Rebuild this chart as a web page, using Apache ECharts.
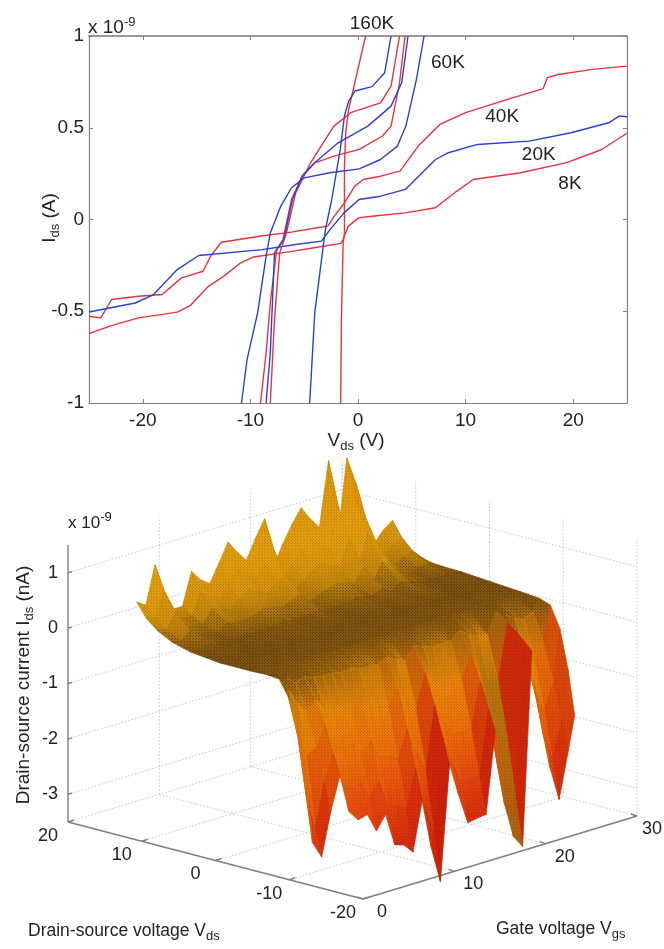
<!DOCTYPE html>
<html><head><meta charset="utf-8">
<style>html,body{margin:0;padding:0;background:#fff}#c{width:664px;height:949px}#c canvas{filter:blur(.45px)}</style>
<script src="https://cdn.jsdelivr.net/npm/echarts@6/dist/echarts.min.js"></script>
</head><body><div id="c"></div>
<script>
// ---------- top panel data: [Vds, Ids (nA)] ----------
const curve8K=[[-25,-.622],[-23,-.58],[-20.4,-.536],[-18.5,-.52],[-16.8,-.505],[-15.6,-.47],[-13.9,-.364],[-12.5,-.31],[-10.9,-.236],[-9.7,-.204],[-6.6,-.178],[-4.2,-.155],[-1.6,-.13],[-1.4,-.113],[-1.26,-.09],[-.9,-.036],[.1,.01],[1.3,.018],[4.4,.036],[7.2,.064],[9.2,.155],[10.7,.218],[15.1,.255],[19.4,.31],[22.6,.38],[25,.47]];
const curve20K=[[-25,-.504],[-20.7,-.455],[-19,-.409],[-16.8,-.273],[-14.8,-.196],[-8.9,-.164],[-5.8,-.136],[-3.4,-.118],[-2.6,-.055],[-1.3,.036],[.1,.109],[2.1,.127],[4.4,.164],[7.2,.327],[8.4,.364],[11.1,.409],[15.9,.427],[19.8,.473],[23.3,.527],[24.3,.565],[25,.56]];
const curve40K=[[-25,-.527],[-23.9,-.536],[-22.9,-.436],[-20.4,-.418],[-18.2,-.409],[-16.4,-.318],[-14.4,-.282],[-13.7,-.2],[-12.7,-.124],[-9,-.09],[-6.2,-.069],[-3.8,-.045],[-2.8,-.036],[-2.2,.018],[-1.26,.09],[-.3,.182],[.5,.218],[2.1,.236],[3.9,.264],[5.6,.4],[7.6,.518],[10,.582],[13.9,.655],[17.2,.713],[17.6,.773],[18.6,.79],[21.8,.818],[25,.836]];
const curve60K=[[-10.83,-1],[-10.31,-.764],[-9.33,-.509],[-8.54,-.2],[-8.15,-.073],[-7.17,.073],[-6.18,.173],[-5,.227],[-2.64,.255],[.12,.276],[2.09,.327],[3.66,.4],[4.45,.509],[5.43,.764],[6.14,1]];
const curve80K=[[-9.06,-1],[-8.54,-.727],[-8.15,-.455],[-7.56,-.164],[-6.97,-.109],[-6.18,.109],[-5.2,.236],[-4.02,.309],[-2.24,.345],[.12,.382],[2.28,.455],[3.07,.509],[3.86,.745],[4.37,1]];
const curve100K=[[-8.54,-1],[-8.15,-.727],[-7.76,-.182],[-6.89,-.109],[-6.1,.109],[-5.2,.236],[-4.02,.309],[-1.85,.418],[.91,.509],[3.07,.618],[4.06,.745],[4.65,1]];
const curve120K=[[-8.15,-1],[-7.76,-.545],[-7.28,-.182],[-6.65,-.073],[-5.79,.145],[-4.41,.309],[-3.03,.436],[-2.24,.509],[-.67,.582],[2.09,.636],[3.07,.727],[3.86,1]];
const curve140K=[[-4.49,-1],[-4.02,-.509],[-3.23,-.145],[-3.03,-.055],[-2.44,.109],[-1.65,.382],[-1.26,.564],[-.87,.645],[-.28,.7],[1.3,.724],[2.48,.8],[3.07,1]];
const curve160K=[[-1.61,-1],[-1.54,-.545],[-1.38,-.127],[-1.26,-.073],[-1.26,.291],[-1.14,.473],[-.87,.6],[-.08,.8],[.71,1]];
const xTicks=[-20,-10,0,10,20];
const tempLabels=[['160K',1.3,1.068],['60K',8.36,.856],['40K',13.4,.561],['20K',16.8,.354],['8K',19.7,.196]];

// ---------- bottom panel data ----------
const vgsTicks=[0,10,20,30];
const vdsTicks=[20,10,0,-10,-20];
const zTicks=[-3,-2,-1,0,1];
const vgsCols=[.5,1.5,2.5,3.5,4.5,5.5,6.5,7.5,8.5,9.5,10.5,11.5,12.5,13.5,14.5,15.5,16.5,17.5,18.5,19.5,20.5,21.5,22.5,23.5,24.5,25.5,26.5,27.5,28.5,29.5,30.2];
const vdsRows=[11.3,10,8.5,6.5,4,0,-4,-6.5,-8,-9.3,-10.4,-11.3];
const zRow0=[.75,.64,1.32,.58,.42,.42,1,.8,.68,1,1.33,1.1,.9,1.25,1.55,.65,1,1.3,1.55,1.3,1.1,2.25,.77,2.2,1.7,.9,.5,.7,.82,.4,.16];
const zRow1=[.5,.43,.88,.39,.29,.29,.67,.54,.46,.67,.88,.73,.6,.83,1.02,.44,.67,.86,1.02,.86,.73,1.48,.52,1.45,1.12,.6,.34,.47,.55,.28,.12];
const zRow2=[.33,.29,.56,.26,.2,.2,.43,.35,.3,.43,.56,.47,.39,.53,.65,.29,.43,.55,.65,.55,.47,.93,.34,.91,.71,.39,.23,.31,.36,.19,.09];
const zRow3=[.19,.17,.3,.16,.12,.12,.24,.2,.18,.24,.3,.26,.22,.29,.35,.17,.24,.3,.35,.3,.26,.49,.19,.48,.38,.22,.14,.18,.2,.12,.07];
const zRow4=[.1,.09,.14,.09,.08,.08,.12,.1,.09,.12,.14,.12,.11,.13,.16,.09,.12,.14,.16,.14,.12,.2,.1,.2,.16,.11,.08,.09,.1,.08,.06];
const zRow5=[.04,.05,.03,.04,.05,.04,.03,.05,.04,.03,.02,.04,.03,.02,.03,.02,.04,.03,.02,.03,.02,.01,.03,.02,.01,.03,.04,.03,.02,.03,.02];
const zRow6=[.04,.02,-.02,-.05,-.04,-.05,-.05,-.05,-.06,-.06,-.07,-.07,-.07,-.05,-.07,-.09,-.04,-.06,-.07,-.07,-.07,-.04,-.06,-.08,-.08,-.01,-.03,-.06,-.07,-.05,-.02];
const zRow7=[.05,0,-.1,-.24,-.18,-.25,-.27,-.27,-.3,-.28,-.34,-.34,-.36,-.27,-.36,-.43,-.22,-.28,-.34,-.33,-.33,-.19,-.32,-.39,-.41,-.06,-.16,-.28,-.34,-.26,-.05];
const zRow8=[.03,-.2,-.5,-.72,-.54,-.75,-.81,-.8,-.9,-.82,-1,-1.02,-1.07,-.81,-1.08,-1.28,-.66,-.84,-1,-1,-.99,-.55,-.96,-1.15,-1.22,-.2,-.48,-.84,-1.03,-.78,-.12];
const zRow9=[-.27,-1,-1.4,-1.32,-.99,-1.38,-1.49,-1.46,-1.65,-1.51,-1.84,-1.87,-1.97,-1.49,-1.98,-2.34,-1.21,-1.54,-1.84,-1.83,-1.82,-1.02,-1.76,-2.12,-2.24,-.33,-.88,-1.54,-1.89,-1.43,-.5];
const zRow10=[-.72,-2,-2.7,-1.92,-1.44,-2,-2.16,-2.12,-2.4,-2.2,-2.68,-2.72,-2.86,-2.16,-2.88,-3.41,-1.76,-2.24,-2.68,-2.66,-2.64,-1.48,-2.56,-3.08,-3.26,-.48,-1.28,-2.24,-2.74,-2.08,-1.2];
const zRow11=[-1.3,-2.86,-3.17,-2.4,-1.8,-2.5,-2.7,-2.65,-3,-2.75,-3.35,-3.4,-3.58,-2.7,-3.6,-4.26,-2.2,-2.8,-3.35,-3.32,-3.3,-1.85,-3.2,-3.85,-4.08,-.6,-1.6,-2.8,-3.43,-2.6,-2];
const zMatrix=[zRow0,zRow1,zRow2,zRow3,zRow4,zRow5,zRow6,zRow7,zRow8,zRow9,zRow10,zRow11];

// ---------- 3D projection (orthographic view of the box) ----------
const Z_BASE=-3.5, Z_TOP=1.5;
function proj(vds,vgs,z){
  const a=20-vds;
  return [68+a*7.375+vgs*9.133, 822+a*1.925-vgs*2.767-(z-Z_BASE)*55.4];
}
const FONT='"Liberation Sans",Arial,sans-serif', TXT='#222', AX='#808080';
const RICH={sub:{fontSize:13,fontFamily:FONT,fill:TXT,padding:[10,0,0,0]},sup:{fontSize:13,fontFamily:FONT,fill:TXT,padding:[0,0,11,0]}};

const dotted=[],solid=[];
const seg=(arr,p,q)=>arr.push([...p,...q]);
vdsTicks.forEach(v=>seg(dotted,proj(v,0,Z_BASE),proj(v,30,Z_BASE)));
vgsTicks.forEach(g=>seg(dotted,proj(20,g,Z_BASE),proj(-20,g,Z_BASE)));
vgsTicks.slice(1).forEach(g=>seg(dotted,proj(20,g,Z_BASE),proj(20,g,Z_TOP)));
vdsTicks.forEach(v=>seg(dotted,proj(v,30,Z_BASE),proj(v,30,Z_TOP)));
zTicks.forEach(z=>{seg(dotted,proj(20,0,z),proj(20,30,z));seg(dotted,proj(20,30,z),proj(-20,30,z));});
seg(solid,proj(20,0,Z_BASE),proj(20,0,Z_TOP));
seg(solid,proj(20,0,Z_BASE),proj(-20,0,Z_BASE));
seg(solid,proj(-20,0,Z_BASE),proj(-20,30,Z_BASE));
zTicks.forEach(z=>{const p=proj(20,0,z);solid.push([p[0],p[1],p[0]+4,p[1]-1]);});
vdsTicks.forEach(v=>{const p=proj(v,0,Z_BASE);solid.push([p[0],p[1],p[0]+6,p[1]-2]);});
vgsTicks.forEach(g=>{const p=proj(-20,g,Z_BASE);solid.push([p[0],p[1],p[0]-6,p[1]-2]);});

const texts3d=[];
zTicks.forEach(z=>{const p=proj(20,0,z);texts3d.push([p[0]-10,p[1],String(z),'right']);});
vdsTicks.forEach(v=>{const p=proj(v,0,Z_BASE);texts3d.push([p[0]-20,p[1]+14,String(v),'center']);});
vgsTicks.forEach(g=>{const p=proj(-20,g,Z_BASE);texts3d.push([p[0]+(g===30?15:19),p[1]+13,String(g),'center']);});

const cells=[];
for(let r=0;r<vdsRows.length-1;r++)for(let c=0;c<vgsCols.length-1;c++){
  const v=(vdsRows[r]+vdsRows[r+1])/2,g=(vgsCols[c]+vgsCols[c+1])/2;
  cells.push([r,c,(20-v)*1.925-g*2.767]);
}
cells.sort((a,b)=>a[2]-b[2]);

const stops=[[-4.3,'#C8200E'],[-3.2,'#DA2C0E'],[-2.5,'#EC4C0C'],[-1.8,'#F06E08'],[-1,'#EE8606'],[-.42,'#DE8A08'],[-.2,'#8E5E0E'],[.06,'#79500E'],[.2,'#A8720C'],[.45,'#D4920A'],[1,'#E6A20C'],[2.3,'#D88A08']];
function zColor(z,wall,olive){
  let col=stops[stops.length-1][1];
  if(z<=stops[0][0])col=stops[0][1];
  else for(let i=1;i<stops.length;i++)if(z<=stops[i][0]){
    const t=(z-stops[i-1][0])/(stops[i][0]-stops[i-1][0]);
    col=echarts.color.lerp(t,[stops[i-1][1],stops[i][1]]);break;
  }
  if(olive&&z<-.8)col=echarts.color.lerp(.75,[col,'#A8740E']);
  if(z<-.3&&wall>0)col=echarts.color.lerp(Math.min(.85,wall/1.6),[col,'#CC1C0A']);
  return col;
}
function dots(alpha){
  const cv=document.createElement('canvas');cv.width=3;cv.height=3;
  const x=cv.getContext('2d');x.fillStyle='rgba(40,18,0,'+alpha+')';
  x.fillRect(0,0,1,1);x.fillRect(1,2,1,1);
  return {image:cv,repeat:'repeat'};
}
const dotA=dots(.42),dotB=dots(.18);

const lineSeries=(name,data,color)=>({name,type:'line',xAxisIndex:0,yAxisIndex:0,data,showSymbol:false,symbol:'none',smooth:false,lineStyle:{color,width:1.4},silent:true,clip:true,z:3});

const segSeries=(arr,style)=>({type:'custom',xAxisIndex:2,yAxisIndex:2,silent:true,data:arr.map((_,i)=>i),
  renderItem(p,api){const s=arr[p.dataIndex],a=api.coord([s[0],s[1]]),b=api.coord([s[2],s[3]]);
    return {type:'line',shape:{x1:a[0],y1:a[1],x2:b[0],y2:b[1]},style};}});

const option={
  animation:false,
  backgroundColor:'#fff',
  grid:[
    {left:89,top:36,width:538,height:367,containLabel:false},
    {left:0,top:0,width:664,height:949}
  ],
  xAxis:[
    {gridIndex:0,type:'value',min:-25,max:25,position:'bottom',splitLine:{show:false},
      axisLine:{onZero:false,lineStyle:{color:AX,width:1.2}},axisTick:{inside:true,length:4,lineStyle:{color:AX},customValues:xTicks},
      axisLabel:{color:TXT,fontSize:19,fontFamily:FONT,margin:8,customValues:xTicks}},
    {gridIndex:0,type:'value',min:-25,max:25,position:'top',splitLine:{show:false},
      axisLine:{onZero:false,lineStyle:{color:'#999',width:2}},axisTick:{inside:true,length:4,lineStyle:{color:AX},customValues:xTicks},axisLabel:{show:false}},
    {gridIndex:1,type:'value',min:0,max:664,show:false}
  ],
  yAxis:[
    {gridIndex:0,type:'value',min:-1,max:1,interval:.5,position:'left',splitLine:{show:false},
      axisLine:{onZero:false,lineStyle:{color:AX,width:1.2}},axisTick:{inside:true,length:4,lineStyle:{color:AX}},
      axisLabel:{color:TXT,fontSize:19,fontFamily:FONT,margin:5}},
    {gridIndex:0,type:'value',min:-1,max:1,interval:.5,position:'right',splitLine:{show:false},
      axisLine:{onZero:false,lineStyle:{color:AX,width:1.2}},axisTick:{inside:true,length:4,lineStyle:{color:AX}},axisLabel:{show:false}},
    {gridIndex:1,type:'value',min:0,max:949,inverse:true,show:false}
  ],
  graphic:[
    {type:'text',x:88,y:16,style:{text:'x 10{sup|-9}',font:'19px '+FONT,fill:TXT,rich:RICH}},
    {type:'text',x:50,y:218,rotation:Math.PI/2,style:{text:'I{sub|ds} (A)',font:'19px '+FONT,fill:TXT,align:'center',verticalAlign:'middle',rich:RICH}},
    {type:'text',x:356,y:441,style:{text:'V{sub|ds} (V)',font:'19px '+FONT,fill:TXT,align:'center',verticalAlign:'middle',rich:RICH}},
    {type:'text',x:68,y:511,style:{text:'x 10{sup|-9}',font:'17px '+FONT,fill:TXT,rich:RICH}},
    {type:'text',x:24,y:685,rotation:Math.PI/2,style:{text:'Drain-source current I{sub|ds} (nA)',font:'19px '+FONT,fill:TXT,align:'center',verticalAlign:'middle',rich:RICH}},
    {type:'text',x:28,y:920,style:{text:'Drain-source voltage V{sub|ds}',font:'17.5px '+FONT,fill:TXT,rich:RICH}},
    {type:'text',x:496,y:918,style:{text:'Gate voltage V{sub|gs}',font:'17.5px '+FONT,fill:TXT,rich:RICH}}
  ],
  series:[
    lineSeries('160K',curve160K,'#E8333C'),
    lineSeries('8K',curve8K,'#E8333C'),
    lineSeries('40K',curve40K,'#E8333C'),
    lineSeries('20K',curve20K,'#2B3FD2'),
    lineSeries('80K',curve80K,'#E8333C'),
    lineSeries('120K',curve120K,'#E8333C'),
    lineSeries('60K',curve60K,'#2B3FD2'),
    lineSeries('100K',curve100K,'#2B3FD2'),
    lineSeries('140K',curve140K,'#2B3FD2'),
    {type:'custom',xAxisIndex:0,yAxisIndex:0,silent:true,clip:false,z:4,data:tempLabels.map((_,i)=>i),
      renderItem(p,api){const t=tempLabels[p.dataIndex],a=api.coord([t[1],t[2]]);
        return {type:'text',x:a[0],y:a[1],style:{text:t[0],font:'19px '+FONT,fill:TXT,align:'center',verticalAlign:'middle'}};}},
    segSeries(dotted,{stroke:'#c6c6c6',lineWidth:1,lineDash:[1.5,2]}),
    segSeries(solid,{stroke:AX,lineWidth:1.4}),
    {type:'custom',xAxisIndex:2,yAxisIndex:2,silent:true,data:texts3d.map((_,i)=>i),
      renderItem(p,api){const t=texts3d[p.dataIndex],a=api.coord([t[0],t[1]]);
        return {type:'text',x:a[0],y:a[1],style:{text:t[2],font:'18px '+FONT,fill:TXT,align:t[3],verticalAlign:'middle'}};}},
    {type:'custom',xAxisIndex:2,yAxisIndex:2,silent:true,progressive:0,z:3,data:cells.map((_,i)=>i),
      renderItem(p,api){
        const [r,c]=cells[p.dataIndex];
        const zs=[zMatrix[r][c],zMatrix[r][c+1],zMatrix[r+1][c+1],zMatrix[r+1][c]];
        const P=[proj(vdsRows[r],vgsCols[c],zs[0]),proj(vdsRows[r],vgsCols[c+1],zs[1]),proj(vdsRows[r+1],vgsCols[c+1],zs[2]),proj(vdsRows[r+1],vgsCols[c],zs[3])].map(q=>api.coord(q));
        const zb=(zs[0]+zs[1])/2,zf=(zs[2]+zs[3])/2,zm=(zb+zf)/2;
        const wall=((zs[1]-zs[0])+(zs[2]-zs[3]))/2;
        const g=(vgsCols[c]+vgsCols[c+1])/2, olive=g>22.4&&g<24.6;
        const fill={type:'linear',x:0,y:0,x2:0,y2:1,colorStops:[{offset:0,color:zColor(Math.max(zb,zf),wall,olive)},{offset:1,color:zColor(Math.min(zb,zf),wall,olive)}]};
        return {type:'group',children:[
          {type:'polygon',shape:{points:P},style:{fill,stroke:zColor(zm,wall,olive),lineWidth:.7}},
          {type:'polygon',shape:{points:P},style:{fill:(zm>-.45&&zm<.25)?dotA:dotB,stroke:'rgba(60,30,0,.14)',lineWidth:.5}}
        ]};
      }}
  ]
};
const chart=echarts.init(document.getElementById('c'),null,{renderer:'canvas',width:664,height:949});
chart.setOption(option);
</script></body></html>
